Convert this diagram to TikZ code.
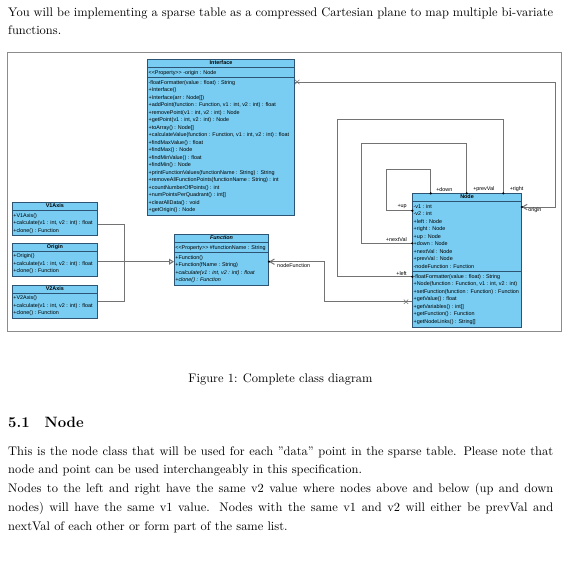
\documentclass[tikz,border=0pt]{standalone}
\usepackage{fontspec}
\newfontfamily\umlfont{Liberation Sans}
\usetikzlibrary{positioning,shapes.multipart,shapes.misc,arrows.meta,calc}

\definecolor{classfill}{RGB}{122,205,242}
\definecolor{classline}{RGB}{45,85,115}
\definecolor{linkgray}{RGB}{115,115,115}
\definecolor{framegray}{RGB}{140,140,140}

\newcommand{\umlsize}{\umlfont\fontsize{4.35}{6.02}\selectfont}
\newcommand{\tstrut}{\rule[-1pt]{0pt}{3.4pt}}

\begin{document}
\begin{tikzpicture}[
    x=0.803pt, y=-0.803pt,
    body/.style={font=\fontsize{10}{15.2}\selectfont, inner sep=0pt,
                 align=justify, text width=437.6pt, anchor=base west},
    umlclass/.style={rectangle split, rectangle split parts=3,
                     rectangle split part align={center,left,left},
                     draw=classline, fill=classfill, line width=.6pt,
                     font=\umlsize, align=left, inner xsep=.8pt, inner ysep=.8pt,
                     anchor=north west},
    umlsmall/.style={umlclass, rectangle split parts=2,
                     rectangle split part align={center,left}},
    link/.style={draw=linkgray, line width=.8pt},
    nav/.style={link, -{Straight Barb[length=3.6pt, width=4.4pt]}},
    gen/.style={link, -{Triangle[open, length=4pt, width=4.8pt, fill=white]}},
    xmark/.style={cross out, draw=linkgray, line width=.5pt, minimum size=3pt, inner sep=0pt},
    role/.style={font=\umlsize, inner sep=.4pt}
  ]
  \useasboundingbox (0,0) rectangle (570,574);

  % Text above the figure.
  \node[body] (intro) at (8,16) {You will be implementing a sparse table as a
    compressed Cartesian plane to map multiple bi-variate functions.};

  % Figure frame.
  \draw[framegray, line width=.7pt] (7,52) rectangle (561,331);

  % Classes.
  \node[umlclass, minimum width=117.8pt] (interface) at (147.3,59.3)
    {\textbf{Interface}\tstrut
     \nodepart{two}\strut<{}<Property>{}> -origin : Node\strut
     \nodepart{three}\strut-floatFormatter(value : float) : String\\
     +Interface()\\
     +Interface(arr : Node[])\\
     +addPoint(function : Function, v1 : int, v2 : int) : float\\
     +removePoint(v1 : int, v2 : int) : Node\\
     +getPoint(v1 : int, v2 : int) : Node\\
     +toArray() : Node[]\\
     +calculateValue(function : Function, v1 : int, v2 : int) : float\\
     +findMaxValue() : float\\
     +findMax() : Node\\
     +findMinValue() : float\\
     +findMin() : Node\\
     +printFunctionValues(functionName : String) : String\\
     +removeAllFunctionPoints(functionName : String) : int\\
     +countNumberOfPoints() : int\\
     +numPointsPerQuadrant() : int[]\\
     +clearAllData() : void\\
     +getOrigin() : Node\strut};

  \node[umlsmall, minimum width=68.3pt] (vone) at (12,202.3)
    {\textbf{V1Axis}\tstrut
     \nodepart{two}\strut+V1Axis()\\
     +calculate(v1 : int, v2 : int) : float\\
     +clone() : Function\strut};
  \node[umlsmall, minimum width=68.3pt] (origin) at (12,242.8)
    {\textbf{Origin}\tstrut
     \nodepart{two}\strut+Origin()\\
     +calculate(v1 : int, v2 : int) : float\\
     +clone() : Function\strut};
  \node[umlsmall, minimum width=68.3pt] (vtwo) at (12,285)
    {\textbf{V2Axis}\tstrut
     \nodepart{two}\strut+V2Axis()\\
     +calculate(v1 : int, v2 : int) : float\\
     +clone() : Function\strut};

  \node[umlclass, minimum width=75.7pt] (function) at (174,234.3)
    {\textbf{\textit{Function}}\tstrut
     \nodepart{two}\strut<{}<Property>{}> \#functionName : String\strut
     \nodepart{three}\strut+Function()\\
     +Function(fName : String)\\
     \textit{+calculate(v1 : int, v2 : int) : float}\\
     \textit{+clone() : Function}\strut};

  \node[umlclass, minimum width=87.3pt] (pnode) at (412.3,193.3)
    {\textbf{Node}\tstrut
     \nodepart{two}\strut-v1 : int\\
     -v2 : int\\
     +left : Node\\
     +right : Node\\
     +up : Node\\
     +down : Node\\
     +nextVal : Node\\
     +prevVal : Node\\
     -nodeFunction : Function\strut
     \nodepart{three}\strut-floatFormatter(value : float) : String\\
     +Node(function : Function, v1 : int, v2 : int)\\
     +setFunction(function : Function) : Function\\
     +getValue() : float\\
     +getVariables() : int[]\\
     +getFunction() : Function\\
     +getNodeLinks() : String[]\strut};

  % Generalization to Function.
  \coordinate (genjoin) at (124,261.7);
  \draw[link] (vone.east |- 0,224.3) -| (genjoin);
  \draw[link] (vtwo.east |- 0,301.7) -| (genjoin);
  \draw[gen] (origin.east |- 0,261.7) -- (function.west |- 0,261.7);

  % Interface -> Node (origin).
  \draw[nav] (interface.east |- 0,82) -- (555,82) |- (pnode.east |- 0,207);
  \fill (pnode.east |- 0,207) circle (1pt);
  \node[xmark] (xorigin) at (297.3,82) {};
  \node[role, anchor=west] (rorigin) at (527.5,210.5) {origin};

  % Node -> Function (nodeFunction).
  \draw[nav] (pnode.west |- 0,301.7) -- (324.3,301.7) |- (function.east |- 0,261.7);
  \fill (function.east |- 0,261.7) circle (1pt);
  \node[xmark] (xfunc) at (406,301.7) {};
  \node[role, anchor=west] (rfunc) at (276.5,265.5) {nodeFunction};

  % Self associations of Node.
  \draw[link] (pnode.west |- 0,210.7) -- (386.7,210.7) -- (386.7,169.3) -| (pnode.north -| 430.7,0);
  \fill (pnode.west |- 0,210.7) circle (1pt);
  \fill (pnode.north -| 430.7,0) circle (1pt);
  \node[role, anchor=south east] (rup) at (407.5,209.8) {+up};
  \node[role, anchor=south west] (rdown) at (435.5,192.2) {+down};

  \draw[link] (pnode.west |- 0,243.3) -- (361.7,243.3) -- (361.7,143.3) -| (pnode.north -| 466.7,0);
  \fill (pnode.west |- 0,243.3) circle (1pt);
  \fill (pnode.north -| 466.7,0) circle (1pt);
  \node[role, anchor=south east] (rnext) at (407.5,242.4) {+nextVal};
  \node[role, anchor=south west] (rprev) at (472.5,192.2) {+prevVal};

  \draw[link] (pnode.west |- 0,276.7) -- (337,276.7) -- (337,119.3) -| (pnode.north -| 503.3,0);
  \fill (pnode.west |- 0,276.7) circle (1pt);
  \fill (pnode.north -| 503.3,0) circle (1pt);
  \node[role, anchor=south east] (rleft) at (407.5,275.8) {+left};
  \node[role, anchor=south west] (rright) at (509,192.2) {+right};

  % Caption and section text.
  \node[anchor=base] (caption) at (280.5,382) {Figure 1: Complete class diagram};
  \node[anchor=base west, font=\large\bfseries, inner sep=0pt] (section) at (8,427)
    {5.1\quad Node};
  \node[body] (nodetext) at (8,455) {This is the node class that will be used for
    each "data" point in the sparse table. Please note that node and point can be
    used interchangeably in this specification.\\
    Nodes to the left and right have the same v2 value where nodes above and below
    (up and down\linebreak nodes) will have the same v1 value. Nodes with the same v1 and v2
    will either be prevVal and\linebreak nextVal of each other or form part of the same list.};
\end{tikzpicture}
\end{document}
